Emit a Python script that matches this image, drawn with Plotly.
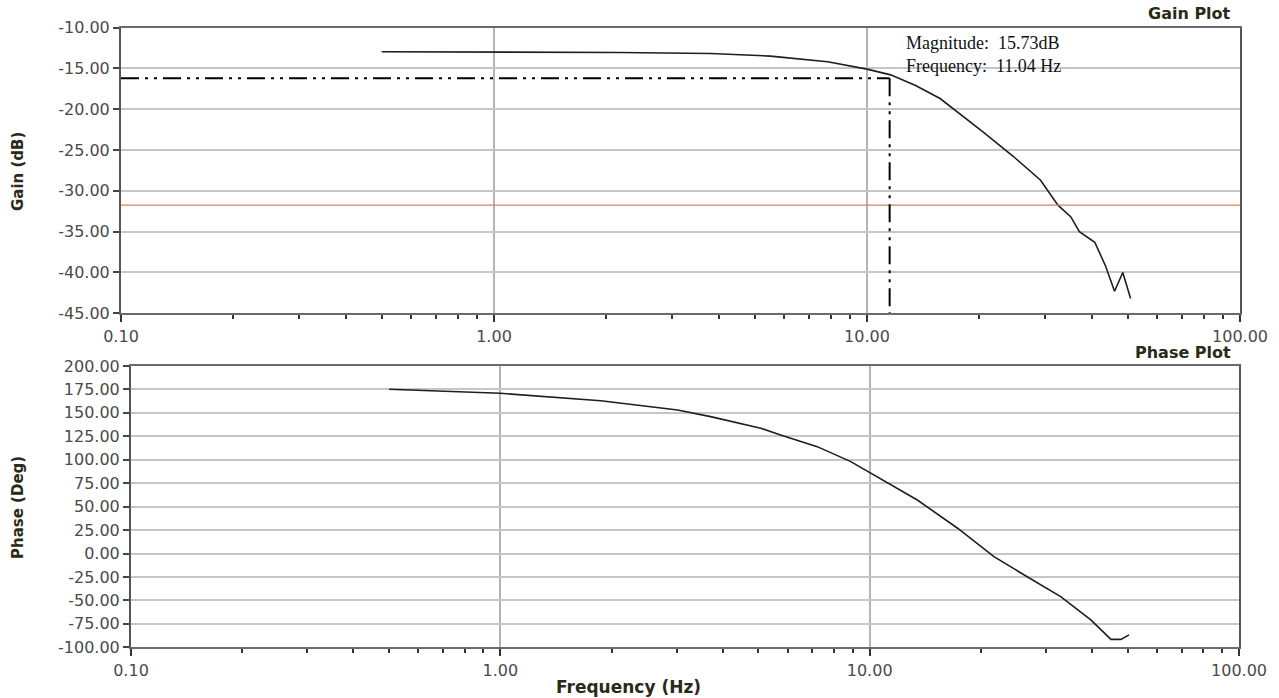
import plotly.graph_objects as go

# ---------------- data ----------------
gain_freq = [0.50, 1.0, 2.16, 3.80, 5.51, 7.84, 10.0, 11.57, 13.5, 15.7, 20.5, 24.7,
             29.2, 32.5, 35.2, 37.1, 40.8, 43.6, 46.1, 48.5, 50.9]
gain_db = [-12.97, -13.0, -13.06, -13.19, -13.5, -14.2, -15.1, -15.8, -17.1, -18.7,
           -22.8, -25.8, -28.7, -31.75, -33.2, -35.0, -36.3, -39.2, -42.3, -40.0, -43.2]

phase_freq = [0.50, 0.75, 1.0, 1.87, 3.02, 3.71, 5.07, 5.74, 7.21, 8.89, 10.07, 13.46,
              17.3, 21.7, 26.7, 32.9, 39.7, 45.0, 47.9, 50.4]
phase_deg = [175.2, 172.6, 170.9, 163.0, 153.1, 146.0, 133.6, 126.4, 114.0, 98.0, 85.6,
             57.1, 27.0, -3.3, -24.7, -46.0, -70.8, -91.5, -91.5, -86.8]

cursor_freq = 11.5        # cursor position (Hz)
cursor_gain = -16.2       # cursor level (dB)
ref_level = -31.75        # orange reference line (dB)

x_tickvals = [0.1, 1, 10, 100]
x_ticktext = ["0.10", "1.00", "10.00", "100.00"]
minor_vals = [m * d for d in (0.1, 1, 10) for m in range(2, 10)]
gain_ticks = [-10, -15, -20, -25, -30, -35, -40, -45]
phase_ticks = list(range(-100, 201, 25))

# ---------------- figure ----------------
W, H = 1279, 698
fig = go.Figure()

curve = dict(color="#1e1e1e", width=1.6)
fig.add_trace(go.Scatter(x=gain_freq, y=gain_db, mode="lines", line=curve,
                         xaxis="x", yaxis="y", showlegend=False))
fig.add_trace(go.Scatter(x=[0.1, 100], y=[ref_level, ref_level], mode="lines",
                         line=dict(color="#d4825c", width=1.2),
                         xaxis="x", yaxis="y", showlegend=False))
dash = "18px,6px,3px,6px,3px,6px"
fig.add_trace(go.Scatter(x=[0.1, cursor_freq], y=[cursor_gain, cursor_gain], mode="lines",
                         line=dict(color="#000", width=2, dash=dash),
                         xaxis="x", yaxis="y", showlegend=False))
fig.add_trace(go.Scatter(x=[cursor_freq, cursor_freq], y=[cursor_gain, -45], mode="lines",
                         line=dict(color="#000", width=2, dash=dash),
                         xaxis="x", yaxis="y", showlegend=False))
fig.add_trace(go.Scatter(x=phase_freq, y=phase_deg, mode="lines", line=curve,
                         xaxis="x2", yaxis="y2", showlegend=False))

tickfont = dict(family="DejaVu Sans", size=16, color="#4a4a4a")
titlefont = dict(family="DejaVu Sans", size=15, color="#2a2a18", weight="bold")

def xaxis_cfg(domain, anchor):
    return dict(type="log", range=[-1, 2], domain=domain, anchor=anchor,
                tickmode="array", tickvals=x_tickvals, ticktext=x_ticktext,
                ticks="outside", ticklen=7, tickwidth=2, tickcolor="#333",
                showgrid=True, gridcolor="#b4b4b4", gridwidth=1.5,
                showline=True, linecolor="#6a6a6a", linewidth=2, mirror=True,
                tickfont=tickfont, zeroline=False, automargin=False,
                minor=dict(tickmode="array", tickvals=minor_vals, ticks="outside",
                           ticklen=4, tickwidth=2, tickcolor="#333", showgrid=False))

def yaxis_cfg(domain, anchor, rng, tv):
    return dict(range=rng, domain=domain, anchor=anchor,
                tickmode="array", tickvals=tv, ticktext=[f"{v:.2f}" for v in tv],
                ticks="outside", ticklen=6, tickwidth=2, tickcolor="#444",
                showgrid=True, gridcolor="#c6c6c6", gridwidth=1.5,
                showline=True, linecolor="#555", linewidth=2, mirror=True,
                tickfont=tickfont, zeroline=False, automargin=False)

fig.update_layout(
    width=W, height=H,
    margin=dict(l=0, r=0, t=0, b=0, pad=0, autoexpand=False),
    paper_bgcolor="white", plot_bgcolor="white",
    xaxis=xaxis_cfg([121 / W, 1240 / W], "y"),
    yaxis=yaxis_cfg([1 - 313.3 / H, 1 - 27.5 / H], "x", [-45, -10], gain_ticks),
    xaxis2=xaxis_cfg([131 / W, 1239 / W], "y2"),
    yaxis2=yaxis_cfg([1 - 647.3 / H, 1 - 366 / H], "x2", [-100, 200], phase_ticks),
)

annotations = [
    dict(text="Gain (dB)", x=18 / W, y=1 - 172 / H, textangle=-90, font=titlefont),
    dict(text="Phase (Deg)", x=18 / W, y=1 - 508 / H, textangle=-90, font=titlefont),
    dict(text="Frequency (Hz)", x=628 / W, y=1 - 687 / H,
         font=dict(family="DejaVu Sans", size=17, color="#2a2a18", weight="bold")),
    dict(text="Gain Plot", x=1233 / W, y=1 - 14 / H, xanchor="right",
         font=dict(family="DejaVu Sans", size=16, color="#2a2a18", weight="bold")),
    dict(text="Phase Plot", x=1233 / W, y=1 - 352 / H, xanchor="right",
         font=dict(family="DejaVu Sans", size=16, color="#2a2a18", weight="bold")),
    dict(text="Magnitude:  15.73dB<br>Frequency:  11.04 Hz", x=904 / W, y=1 - 31 / H,
         xanchor="left", yanchor="top", align="left",
         font=dict(family="Liberation Serif", size=18, color="#111")),
]
for a in annotations:
    a.setdefault("xanchor", "center")
    a.setdefault("yanchor", "middle")
    a.update(xref="paper", yref="paper", showarrow=False)
fig.update_layout(annotations=annotations)

fig.write_html("out.html",
               config={"displayModeBar": False},
               post_script="document.body.style.margin='0';")
